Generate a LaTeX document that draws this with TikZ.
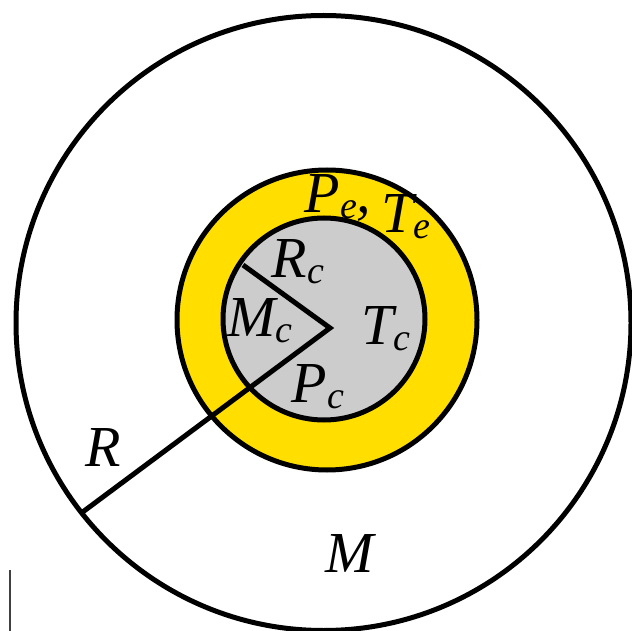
\documentclass[tikz,border=0pt]{standalone}
\usepackage{fontspec}
\newfontfamily\labfont{Liberation Serif Italic}
\definecolor{coreyellow}{RGB}{255,222,0}
\definecolor{coregray}{RGB}{204,204,204}
\newcommand\subl[1]{\raisebox{-6pt}{\labfont\fontsize{38}{38}\selectfont #1}}
\begin{document}
\begin{tikzpicture}[x=1pt,y=-1pt,
  ring/.style={draw=black,line width=5pt},
  radius line/.style={draw=black,line width=5pt}]
\useasboundingbox (0,0) rectangle (632,631);
\draw[ring] (323.5,323) circle[radius=307.5];
\draw[ring,fill=coreyellow] (327,320) circle[radius=150];
\draw[ring,fill=coregray] (324,319) circle[radius=101];
\coordinate (apex) at (330,328);
\coordinate (rcend) at (243,265);
\coordinate (rend) at (80,514);
\draw[radius line,line join=miter] (rcend) -- (apex) -- (rend);
\node[font=\labfont\fontsize{58}{58}\selectfont] (pe) at (338,198) {P\subl{e},};
\node[font=\labfont\fontsize{58}{58}\selectfont] (te) at (406,217) {T\subl{e}};
\node[font=\labfont\fontsize{58}{58}\selectfont] (rc) at (298,262) {R\subl{c}};
\node[font=\labfont\fontsize{58}{58}\selectfont] (mc) at (260,321) {M\subl{c}};
\node[font=\labfont\fontsize{58}{58}\selectfont] (tc) at (386,329) {T\subl{c}};
\node[font=\labfont\fontsize{58}{58}\selectfont] (pc) at (318,387) {P\subl{c}};
\node[font=\labfont\fontsize{58}{58}\selectfont] (r) at (103,448) {R};
\node[font=\labfont\fontsize{58}{58}\selectfont] (m) at (350,554) {M};
\coordinate (s1) at (10,570);
\coordinate (s2) at (10,631);
\draw[black!75,line width=2.5pt] (s1) -- (s2);
\end{tikzpicture}
\end{document}
